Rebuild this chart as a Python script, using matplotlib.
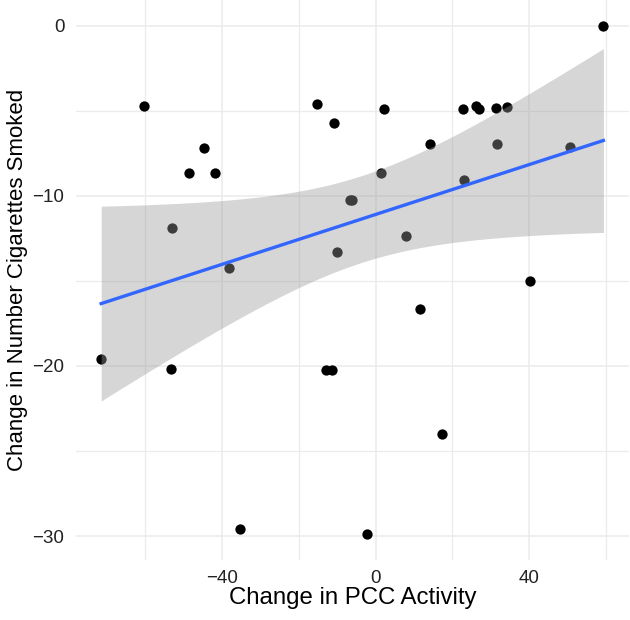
import numpy as np
import matplotlib
matplotlib.use("Agg")
import matplotlib.pyplot as plt

# change in PCC activity vs change in cigarettes smoked
pcc_change = [-71.5, -60.4, -53.0, -53.4, -48.6, -44.8, -41.8, -38.3, -35.2,
              -15.3, -13.0, -11.4, -10.9, -10.0, -6.6, -6.1, -2.3, 1.35, 2.3,
              8.0, 11.7, 14.3, 17.4, 22.9, 23.1, 26.1, 27.0, 31.3, 31.6, 34.2,
              40.2, 50.8, 59.4]
cig_change = [-19.6, -4.74, -11.9, -20.2, -8.65, -7.22, -8.65, -14.25, -29.6,
              -4.64, -20.26, -20.26, -5.70, -13.33, -10.24, -10.24, -29.9, -8.67, -4.91,
              -12.35, -16.64, -6.99, -24.0, -4.91, -9.06, -4.72, -4.91, -4.83, -6.99, -4.76,
              -15.03, -7.16, 0.0]

x = np.array(pcc_change)
y = np.array(cig_change)

# linear fit with 95% confidence band (like geom_smooth(method="lm"))
n = len(x)
slope, intercept = np.polyfit(x, y, 1)
resid = y - (slope * x + intercept)
s = np.sqrt(np.sum(resid ** 2) / (n - 2))
t_crit = 2.04  # t(0.975, df=31)
xs = np.linspace(x.min(), x.max(), 100)
ys = slope * xs + intercept
se = s * np.sqrt(1 / n + (xs - x.mean()) ** 2 / np.sum((x - x.mean()) ** 2))

plt.rcParams["font.family"] = ["Liberation Sans", "DejaVu Sans"]

fig = plt.figure(figsize=(6.3, 6.2), dpi=100)
ax = fig.add_axes([0.121, 0.097, 0.877, 0.903])

ax.scatter(x, y, s=55, color="black", zorder=2, linewidths=0)
ax.fill_between(xs, ys - t_crit * se, ys + t_crit * se, color="#999999",
                alpha=0.4, linewidth=0, zorder=3)
ax.plot(xs, ys, color="#3366FF", linewidth=2.4, zorder=4)

ax.set_xlim(-78, 66)
ax.set_ylim(-31.4, 1.5)
ax.set_xticks([-40, 0, 40])
ax.set_xticklabels(["\u221240", "0", "40"])
ax.set_yticks([0, -10, -20, -30])
ax.set_yticklabels(["0", "\u221210", "\u221220", "\u221230"])
ax.set_xticks([-60, -20, 20, 60], minor=True)
ax.set_yticks([-5, -15, -25], minor=True)

ax.grid(which="major", color="#EBEBEB", linewidth=1.1)
ax.grid(which="minor", color="#EBEBEB", linewidth=0.9)
ax.set_axisbelow(True)
for sp in ax.spines.values():
    sp.set_visible(False)
ax.tick_params(which="both", length=0)
ax.tick_params(axis="x", labelsize=13.5, labelcolor="#222222", pad=7)
ax.tick_params(axis="y", labelsize=13.5, labelcolor="#222222", pad=8.5)

ax.set_xlabel("Change in PCC Activity", fontsize=17.3, labelpad=0)
ax.set_ylabel("Change in Number Cigarettes Smoked", fontsize=16, labelpad=3)

fig.savefig("out.png", dpi=100)
